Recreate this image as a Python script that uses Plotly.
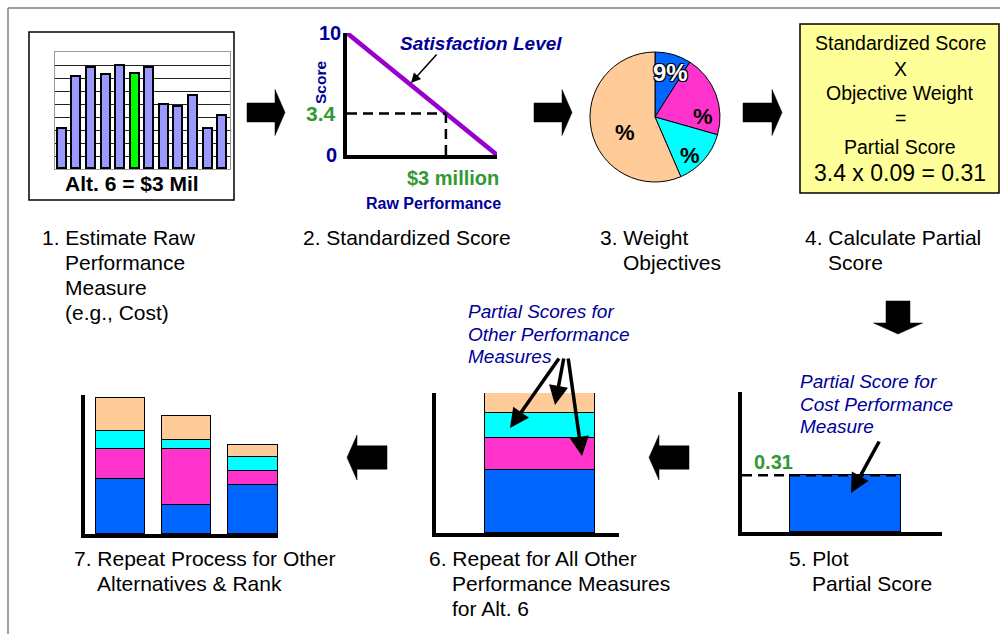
import math
import plotly.graph_objects as go

W, H = 1000, 634


def px(x):
    return x / W


def py(y):
    return 1 - y / H


FONT = "Arial, Liberation Sans, sans-serif"
NAVY = "#000099"
GREEN = "#339933"
PURPLE = "#9900CC"
BLUE, MAGENTA, CYAN, PEACH = "#0066FF", "#FF33CC", "#00FFFF", "#FFCC99"
PERIWINKLE, LIME = "#9999FF", "#00FF00"

# ---------------- data ----------------
# Step 1: raw cost estimates of the alternatives
alternatives = list(range(1, 13))
raw_cost = [3.1, 7.1, 7.8, 7.2, 7.9, 7.3, 7.8, 4.9, 4.8, 5.6, 3.1, 4.1]
chosen_alt = 6

# Step 2: satisfaction curve (raw performance in $M -> score)
raw_perf = [0.0, 4.55]
sat_score = [10, 0]
alt6_cost = 3.0
alt6_score = 3.4

# Step 3: objective weights
weight_labels = ["9%", "%", "%", "%"]
weights = [9, 20.4, 14.1, 56.5]

# Step 4 / 5
objective_weight = 0.09
partial_score = round(alt6_score * objective_weight, 2)

# Step 6: partial scores of every performance measure for Alt. 6
alt6_partials = [partial_score, 0.156, 0.126, 0.10]

# Step 7: partial scores of three alternatives, per measure
ranked_alts = ["A", "B", "C"]
cost_part = [0.303, 0.162, 0.271]
m2_part = [0.168, 0.309, 0.078]
m3_part = [0.098, 0.052, 0.078]
m4_part = [0.184, 0.131, 0.064]

measure_colors = [BLUE, MAGENTA, CYAN, PEACH]

fig = go.Figure()

# Step 1 bar chart
bar_colors = [LIME if a == chosen_alt else PERIWINKLE for a in alternatives]
fig.add_trace(go.Bar(
    x=alternatives, y=raw_cost, width=0.62,
    marker=dict(color=bar_colors, line=dict(color="black", width=1.8)),
    xaxis="x", yaxis="y", hoverinfo="skip"))

# Step 2 satisfaction line
fig.add_trace(go.Scatter(
    x=raw_perf, y=sat_score, mode="lines",
    line=dict(color=PURPLE, width=4.5),
    xaxis="x2", yaxis="y2", hoverinfo="skip"))

# Step 3 weights pie
fig.add_trace(go.Pie(
    values=weights, labels=["Cost", "Obj 2", "Obj 3", "Obj 4"],
    marker=dict(colors=measure_colors, line=dict(color="black", width=1)),
    sort=False, direction="clockwise", rotation=0, textinfo="none",
    domain=dict(x=[px(589), px(721)], y=[py(182), py(52)]),
    hoverinfo="skip"))

# Step 5 single partial score
fig.add_trace(go.Bar(
    x=[1.03], y=[partial_score], width=1.11,
    marker=dict(color=BLUE, line=dict(color="black", width=1.5)),
    xaxis="x3", yaxis="y3", hoverinfo="skip"))

# Step 6 stacked partial scores for Alt. 6
for val, col in zip(alt6_partials, measure_colors):
    fig.add_trace(go.Bar(
        x=[1.14], y=[val], width=1.2,
        marker=dict(color=col, line=dict(color="black", width=1.5)),
        xaxis="x4", yaxis="y4", hoverinfo="skip"))

# Step 7 stacked totals for several alternatives
for vals, col in zip([cost_part, m2_part, m3_part, m4_part], measure_colors):
    fig.add_trace(go.Bar(
        x=ranked_alts, y=vals, width=0.74,
        marker=dict(color=col, line=dict(color="black", width=1.5)),
        xaxis="x5", yaxis="y5", hoverinfo="skip"))

# ---------------- axes ----------------
base = dict(showgrid=False, zeroline=False, showticklabels=False,
            ticks="", fixedrange=True)
thick = dict(showline=True, linecolor="black", linewidth=4)

layout_axes = dict(
    xaxis=dict(base, domain=[px(55), px(230)], range=[0.5, 12.5], anchor="y",
               showline=True, mirror=True, linecolor="#999", linewidth=1),
    yaxis=dict(base, domain=[py(169), py(52)], range=[0, 9], anchor="x",
               showgrid=True, gridcolor="#222", gridwidth=1, dtick=1, tick0=0,
               showline=True, mirror=True, linecolor="#999", linewidth=1),
    xaxis2=dict(base, **thick, domain=[px(347), px(497)], range=[0, 4.55], anchor="y2"),
    yaxis2=dict(base, **thick, domain=[py(155), py(33)], range=[0, 10], anchor="x2"),
    xaxis3=dict(base, **thick, domain=[px(742), px(942)], range=[0, 2], anchor="y3"),
    yaxis3=dict(base, **thick, domain=[py(532), py(392)], range=[0, 0.765], anchor="x3"),
    xaxis4=dict(base, **thick, domain=[px(436), px(619)], range=[0, 2], anchor="y4"),
    yaxis4=dict(base, **thick, domain=[py(533), py(393)], range=[0, 0.69], anchor="x4"),
    xaxis5=dict(base, **thick, domain=[px(85), px(278)], range=[-0.532, 2.377],
                type="category", anchor="y5"),
    yaxis5=dict(base, **thick, domain=[py(534), py(395)], range=[0, 0.77], anchor="x5"),
)

# ---------------- shapes ----------------
shapes = []

# outer frame
shapes.append(dict(type="line", xref="paper", yref="paper", x0=px(8), y0=py(8),
                   x1=1, y1=py(8), line=dict(color="#808080", width=1.5)))
shapes.append(dict(type="line", xref="paper", yref="paper", x0=px(8), y0=py(8),
                   x1=px(8), y1=0, line=dict(color="#808080", width=1.5)))

# box around the step 1 chart
shapes.append(dict(type="rect", xref="paper", yref="paper", layer="below",
                   x0=px(29), y0=py(200), x1=px(234), y1=py(32),
                   line=dict(color="black", width=1.5)))

# yellow formula box
shapes.append(dict(type="rect", xref="paper", yref="paper", layer="below",
                   x0=px(800), y0=py(193), x1=px(999), y1=py(24),
                   fillcolor="#FFFF99", line=dict(color="black", width=1.5)))

# dashed guides on the satisfaction chart
dash = dict(color="black", width=2.5, dash="10px,6px")
shapes.append(dict(type="line", xref="x2", yref="y2", x0=0, x1=alt6_cost,
                   y0=alt6_score, y1=alt6_score, line=dash))
shapes.append(dict(type="line", xref="x2", yref="y2", x0=alt6_cost, x1=alt6_cost,
                   y0=0, y1=alt6_score, line=dash))

# dashed level of the partial score
shapes.append(dict(type="line", xref="x3", yref="y3", x0=0, x1=1.6,
                   y0=partial_score, y1=partial_score, line=dash))


def block_arrow(tail, tip, sh, hh, head_len):
    (x0, y0), (x1, y1) = tail, tip
    length = math.hypot(x1 - x0, y1 - y0)
    ux, uy = (x1 - x0) / length, (y1 - y0) / length
    nx, ny = -uy, ux
    local = [(0, -sh), (length - head_len, -sh), (length - head_len, -hh),
             (length, 0), (length - head_len, hh), (length - head_len, sh), (0, sh)]
    pts = [(x0 + a * ux + b * nx, y0 + a * uy + b * ny) for a, b in local]
    path = "M " + " L ".join(f"{px(x):.5f},{py(y):.5f}" for x, y in pts) + " Z"
    return dict(type="path", xref="paper", yref="paper", path=path,
                fillcolor="black", line=dict(color="black", width=0.5))


shapes.append(block_arrow((247, 112.5), (285, 112.5), 9.5, 23, 10))
shapes.append(block_arrow((534, 112.5), (572, 112.5), 9.5, 23, 10))
shapes.append(block_arrow((743, 112.5), (782, 112.5), 9.5, 23, 10))
shapes.append(block_arrow((898, 301), (898, 334), 12, 24.5, 11))
shapes.append(block_arrow((689, 457.5), (649, 457.5), 11.7, 22.5, 10))
shapes.append(block_arrow((387, 457.5), (347, 457.5), 11.7, 22.5, 10))

# ---------------- text ----------------
ann = []


def text(x, y, s, size, color="black", xanchor="left", yanchor="middle",
         yref="paper", angle=0, family=FONT, **kw):
    ann.append(dict(x=px(x), y=py(y) if yref == "paper" else y, xref="paper",
                    yref=yref, text=s, showarrow=False, xanchor=xanchor,
                    yanchor=yanchor, textangle=angle,
                    font=dict(family=family, size=size, color=color, **kw)))


# step captions
step_lines = [
    ("1. Estimate Raw", 40, 237), ("Performance", 63, 262), ("Measure", 63, 287),
    ("(e.g., Cost)", 63, 312),
    ("2. Standardized Score", 301, 237),
    ("3. Weight", 598, 237), ("Objectives", 621, 262),
    ("4. Calculate Partial", 803, 237), ("Score", 826, 262),
    ("5. Plot", 787, 558), ("Partial Score", 810, 583),
    ("6. Repeat for All Other", 427, 558), ("Performance Measures", 450, 583),
    ("for Alt. 6", 450, 608),
    ("7. Repeat Process for Other", 72, 558), ("Alternatives & Rank", 95, 583),
]
for s, x, y in step_lines:
    text(x, y, s, 21)

# step 1 label
text(132, 183, f"<b>Alt. {chosen_alt} = ${alt6_cost:.0f} Mil</b>", 21, xanchor="center")

# step 2 labels
text(481, 43, "<b><i>Satisfaction Level</i></b>", 19, NAVY, xanchor="center")
text(330, 10, "<b>10</b>", 20, NAVY, xanchor="center", yref="y2")
text(331, 0, "<b>0</b>", 20, NAVY, xanchor="center", yref="y2")
text(321, alt6_score, f"<b>{alt6_score}</b>", 21, GREEN, xanchor="center", yref="y2")
text(321, 83, "<b>Score</b>", 15.5, NAVY, xanchor="center", angle=-90)
text(453, 178, f"<b>${alt6_cost:.0f} million</b>", 20, GREEN, xanchor="center")
text(433, 203, "<b>Raw Performance</b>", 16, NAVY, xanchor="center")

# pie labels
pie_label_pos = [(670, 73), (703, 117), (690, 155), (625, 132)]
for (x, y), s in zip(pie_label_pos, weight_labels):
    if s != "%":
        text(x, y, f"<b>{s}</b>", 24, "white", xanchor="center",
             shadow="1px 1px 0 #000, -1px -1px 0 #000, 1px -1px 0 #000, -1px 1px 0 #000")
    else:
        text(x, y, f"<b>{s}</b>", 22, "black", xanchor="center")

# formula box
box_lines = [("Standardized Score", 43), ("X", 69), ("Objective Weight", 93),
             ("=", 118), ("Partial Score", 146.5)]
for s, y in box_lines:
    text(900, y, s, 19.5, xanchor="center")
text(900, 173, f"{alt6_score} x {objective_weight:.2f} = {partial_score:.2f}",
     23, xanchor="center")

# step 5 labels
text(773, partial_score, f"<b>{partial_score:.2f}</b>", 20, GREEN,
     xanchor="center", yanchor="bottom", yref="y3")
for s, y in [("Partial Score for", 381.5), ("Cost Performance", 404), ("Measure", 426.5)]:
    text(798, y, f"<i>{s}</i>", 19, NAVY)

# step 6 labels
for s, y in [("Partial Scores for", 311.5), ("Other Performance", 334), ("Measures", 356.5)]:
    text(466, y, f"<i>{s}</i>", 19, NAVY)


def pointer(tail, tip, width=3.5, size=1.1):
    ann.append(dict(x=px(tip[0]), y=py(tip[1]), xref="paper", yref="paper",
                    ax=tail[0] - tip[0], ay=tail[1] - tip[1], text="",
                    showarrow=True, arrowhead=2, arrowsize=size,
                    arrowwidth=width, arrowcolor="black"))


pointer((438, 53), (411, 83), width=1.5, size=1.3)
pointer((880, 440), (851, 493))
pointer((560, 357), (510, 428))
pointer((564, 357), (555, 405))
pointer((568, 357), (582, 456))

fig.update_layout(
    width=W, height=H, margin=dict(l=0, r=0, t=0, b=0),
    paper_bgcolor="white", plot_bgcolor="rgba(0,0,0,0)",
    showlegend=False, barmode="stack", bargap=0,
    shapes=shapes, annotations=ann, font=dict(family=FONT),
    **layout_axes)

fig.write_html("out.html", config=dict(displayModeBar=False))
